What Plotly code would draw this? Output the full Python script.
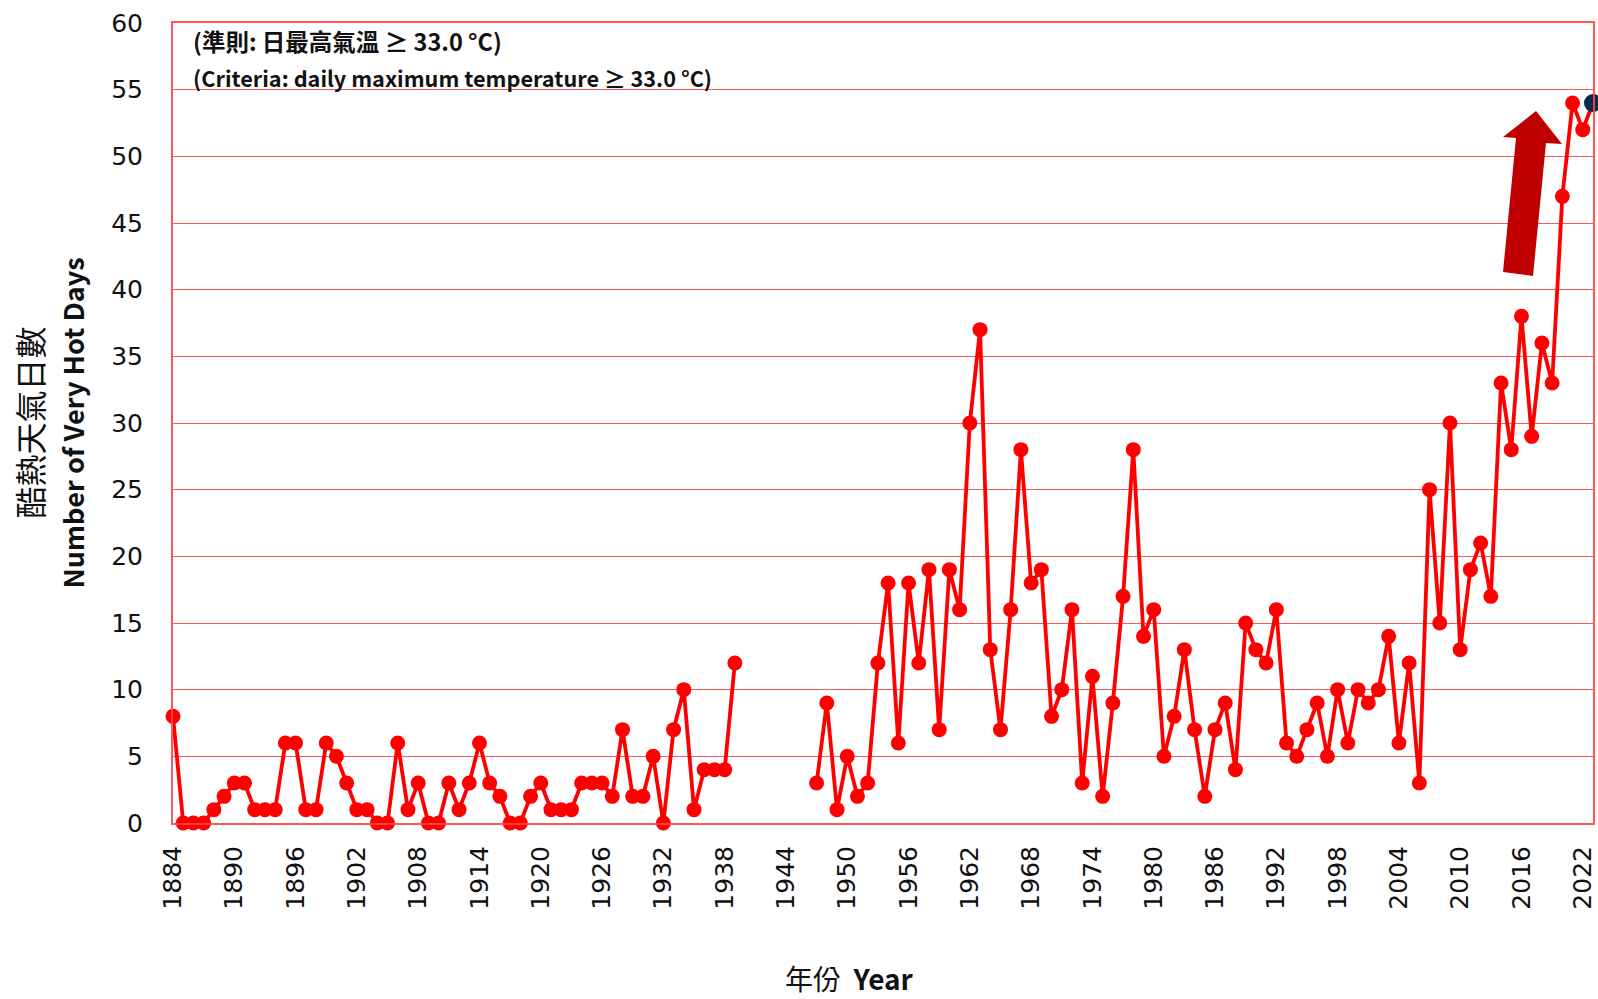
import plotly.graph_objects as go

# ---------------- data ----------------
years = list(range(1884, 2024))
hot_days_1884_1939 = [8, 0, 0, 0, 1, 2, 3, 3, 1, 1,
                      1, 6, 6, 1, 1, 6, 5, 3, 1, 1,
                      0, 0, 6, 1, 3, 0, 0, 3, 1, 3,
                      6, 3, 2, 0, 0, 2, 3, 1, 1, 1,
                      3, 3, 3, 2, 7, 2, 2, 5, 0, 7,
                      10, 1, 4, 4, 4, 12]
hot_days_1940_1946 = [None] * 7  # no record (war years)
hot_days_1947_2022 = [3, 9, 1, 5, 2, 3, 12, 18, 6, 18,
                      12, 19, 7, 19, 16, 30, 37, 13, 7, 16,
                      28, 18, 19, 8, 10, 16, 3, 11, 2, 9,
                      17, 28, 14, 16, 5, 8, 13, 7, 2, 7,
                      9, 4, 15, 13, 12, 16, 6, 5, 7, 9,
                      5, 10, 6, 10, 9, 10, 14, 6, 12, 3,
                      25, 15, 30, 13, 19, 21, 17, 33, 28, 38,
                      29, 36, 33, 47, 54, 52]
latest_year = [2023]
latest_value = [54]
hot_days = hot_days_1884_1939 + hot_days_1940_1946 + hot_days_1947_2022 + latest_value

x_tick_years = list(range(1884, 2023, 6))
y_ticks = list(range(0, 61, 5))

title_cn = "酷熱天氣日數"
title_en = "Number of Very Hot Days"
xtitle = "年份  <b>Year</b>"
note_cn = "<b>(準則: 日最高氣溫 ≥ 33.0 °C)</b>"
note_en = "<b>(Criteria: daily maximum temperature ≥ 33.0 °C)</b>"

# ---------------- styles ----------------
W, H = 1598, 999
ML, MR, MT, MB = 173, 5, 23, 176
PW, PH = W - ML - MR, H - MT - MB
RED = "#FF0000"
GRID = "rgba(255,70,70,0.9)"
NAVY = "#0B2A4A"
ARROW = "#C00000"
CJK = "Noto Sans CJK TC"
TICKFONT = "DejaVu Sans"


def px2paper(px, py):
    return (px - ML) / PW, (H - MB - py) / PH


# block arrow outline in pixel space (decoration)
arrow_px = [(1503, 272), (1533, 276), (1546, 143), (1562, 144),
            (1536, 111), (1503, 137), (1516, 138)]
pts = [px2paper(*p) for p in arrow_px]
arrow_path = "M " + " L ".join(f"{a:.5f},{b:.5f}" for a, b in pts) + " Z"

fig = go.Figure()
fig.add_trace(go.Scatter(
    x=years, y=hot_days, mode="lines+markers",
    line=dict(color=RED, width=3.8),
    marker=dict(color=RED, size=15),
    connectgaps=False, cliponaxis=False, hoverinfo="x+y"))
fig.add_trace(go.Scatter(
    x=latest_year, y=latest_value, mode="markers",
    marker=dict(color=NAVY, size=18),
    cliponaxis=False, hoverinfo="x+y"))

fig.update_layout(
    width=W, height=H,
    margin=dict(l=ML, r=MR, t=MT, b=MB, autoexpand=False),
    plot_bgcolor="white", paper_bgcolor="white",
    showlegend=False,
    shapes=[dict(type="path", path=arrow_path, xref="paper", yref="paper",
                 fillcolor=ARROW, line=dict(width=0), layer="above")],
)
fig.update_xaxes(
    range=[1884, 2023], tickmode="array", tickvals=x_tick_years,
    ticktext=[str(v) for v in x_tick_years], tickangle=-90,
    tickfont=dict(family=TICKFONT, size=25, color="#111"),
    showgrid=False, zeroline=False, ticks="",
    showline=True, linecolor=GRID, linewidth=2, mirror=True,
    ticklabelstandoff=11, automargin=False)
fig.update_yaxes(
    range=[0, 60], tickmode="array", tickvals=y_ticks,
    tickfont=dict(family=TICKFONT, size=25, color="#111"),
    showgrid=True, gridcolor=GRID, gridwidth=1.3,
    zeroline=False, ticks="",
    showline=True, linecolor=GRID, linewidth=2, mirror=True,
    ticklabelstandoff=23, automargin=False)

centre_y = (MT + H - MB) / 2
labels = [
    dict(text=title_cn, px=28.5, py=centre_y, textangle=-90,
         font=dict(family=CJK, size=32, color="#111")),
    dict(text="<b>" + title_en + "</b>", px=71.5, py=centre_y, textangle=-90,
         font=dict(family=CJK, size=27, color="#111")),
    dict(text=xtitle, px=849, py=978, textangle=0,
         font=dict(family=CJK, size=28, color="#111")),
]
for a in labels:
    xp, yp = px2paper(a["px"], a["py"])
    fig.add_annotation(x=xp, y=yp, xref="paper", yref="paper",
                       xanchor="center", yanchor="middle", showarrow=False,
                       text=a["text"], textangle=a["textangle"], font=a["font"])

for txt, py, size in [(note_cn, 41, 23.5), (note_en, 77.5, 21.7)]:
    xp, yp = px2paper(191, py)
    fig.add_annotation(x=xp, y=yp, xref="paper", yref="paper", xanchor="left",
                       yanchor="middle", showarrow=False, text=txt,
                       font=dict(family=CJK, size=size, color="#111"))

fig.write_html("out.html",
               config={"displayModeBar": False},
               post_script="document.body.style.margin='0px';"
                           "document.body.style.overflow='hidden';")
